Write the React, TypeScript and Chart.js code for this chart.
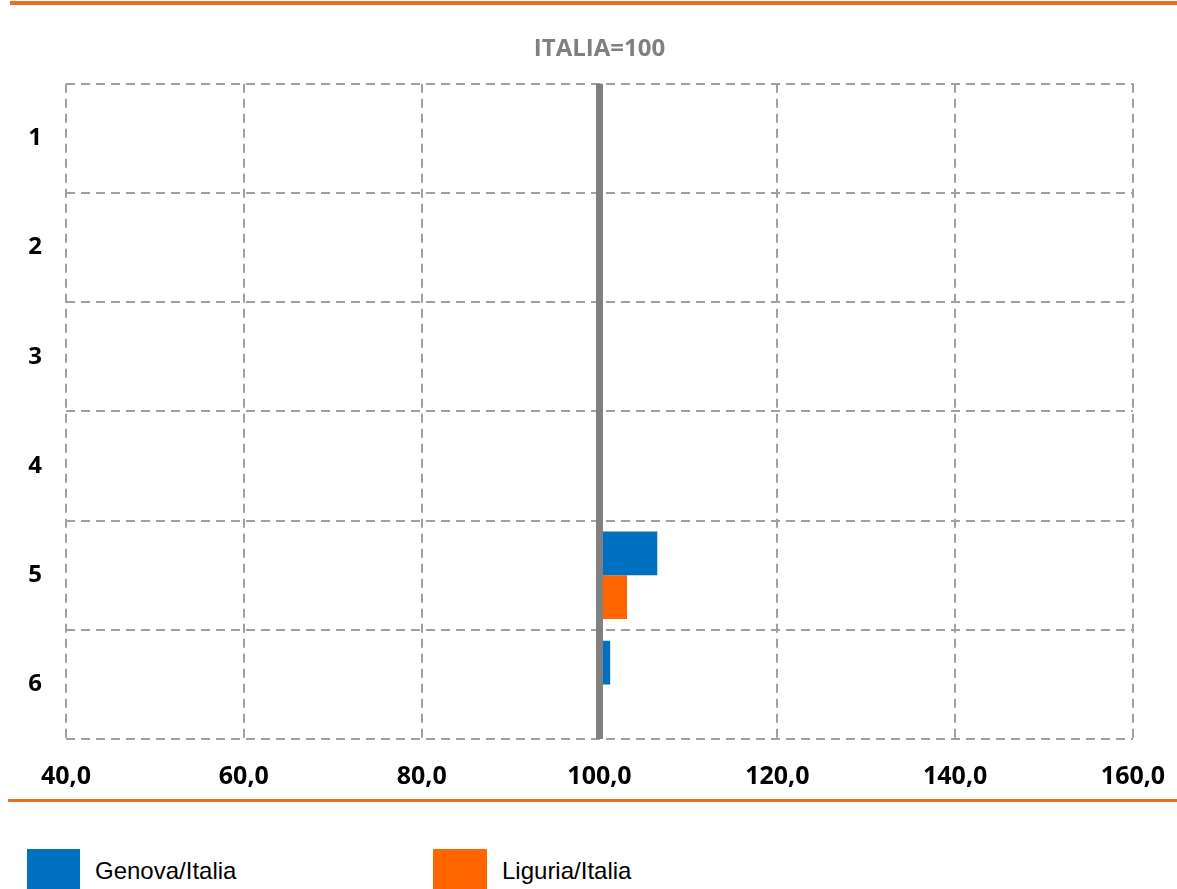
import React, { useEffect, useRef } from "react";
import { Chart, registerables } from "chart.js";

Chart.register(...registerables);

const categories = ["1", "2", "3", "4", "5", "6"];
const genovaValues: (number | null)[] = [null, null, null, null, 106.5, 101.2];
const liguriaValues: (number | null)[] = [null, null, null, null, 103.1, null];
const seriesNames = ["Genova/Italia", "Liguria/Italia"];
const seriesColors = ["#0070C0", "#FF6600"];
const xMin = 40;
const xMax = 160;
const xStep = 20;
const baseValue = 100;
const titleText = "ITALIA=100";

const FONT = "'Open Sans', 'DejaVu Sans', sans-serif";

const baseLinePlugin = {
  id: "baseLine",
  afterDatasetsDraw(chart: any) {
    const { ctx, chartArea, scales } = chart;
    const x = scales.x.getPixelForValue(baseValue);
    ctx.save();
    ctx.strokeStyle = "#808080";
    ctx.lineWidth = 7;
    ctx.beginPath();
    ctx.moveTo(x, chartArea.top);
    ctx.lineTo(x, chartArea.bottom);
    ctx.stroke();
    ctx.restore();
  },
};

export default function App() {
  const ref = useRef<HTMLCanvasElement>(null);

  useEffect(() => {
    if (!ref.current) return;
    const chart = new Chart(ref.current, {
      type: "bar",
      data: {
        labels: categories,
        datasets: [
          {
            label: seriesNames[0],
            data: genovaValues as any,
            backgroundColor: seriesColors[0],
            base: baseValue,
            categoryPercentage: 0.8,
            barPercentage: 1,
          } as any,
          {
            label: seriesNames[1],
            data: liguriaValues as any,
            backgroundColor: seriesColors[1],
            base: baseValue,
            categoryPercentage: 0.8,
            barPercentage: 1,
          } as any,
        ],
      },
      options: {
        indexAxis: "y",
        animation: false,
        responsive: false,
        maintainAspectRatio: false,
        layout: { padding: { left: 0, right: 44, top: 0, bottom: 21 } },
        plugins: {
          legend: { display: false },
          tooltip: { enabled: false },
          title: {
            display: true,
            text: titleText,
            fullSize: false,
            color: "#808080",
            font: { family: FONT, size: 24, weight: "bold" },
            padding: { top: 35, bottom: 20 },
          },
        },
        scales: {
          x: {
            type: "linear",
            min: xMin,
            max: xMax,
            afterFit: (s: any) => {
              s.height = 60;
              s.paddingLeft = 0;
              s.paddingRight = 0;
            },
            ticks: {
              stepSize: xStep,
              color: "#000000",
              font: { family: FONT, size: 25, weight: "bold" },
              padding: 23,
              callback: (v: any) => Number(v).toFixed(1).replace(".", ","),
            },
            grid: {
              color: "#A0A0A0",
              lineWidth: 2,
              drawTicks: false,
            },
            border: { display: false, dash: [9, 6] },
          },
          y: {
            type: "category",
            afterFit: (s: any) => {
              s.width = 66;
              s.paddingTop = 0;
              s.paddingBottom = 0;
            },
            ticks: {
              color: "#000000",
              font: { family: FONT, size: 24, weight: "bold" },
              padding: 24,
            },
            grid: {
              color: "#A0A0A0",
              lineWidth: 2,
              drawTicks: false,
              offset: true,
            },
            border: { display: false, dash: [9, 6] },
          },
        },
      },
      plugins: [baseLinePlugin],
    });
    return () => chart.destroy();
  }, []);

  const legendText: React.CSSProperties = {
    position: "absolute",
    top: 856,
    fontFamily: "'Liberation Sans', Arial, sans-serif",
    fontSize: 24,
    lineHeight: "30px",
    color: "#000",
    whiteSpace: "nowrap",
  };

  return (
    <div style={{ position: "absolute", left: 0, top: 0, width: 1177, height: 889, background: "#fff", overflow: "hidden" }}>
      <div style={{ position: "absolute", left: 10, top: 1, width: 1167, height: 4, background: "#E87025" }} />
      <div style={{ position: "absolute", left: 0, top: 0, width: 1177, height: 820 }}>
        <canvas ref={ref} width={1177} height={820} style={{ width: 1177, height: 820, display: "block" }} />
      </div>
      <div style={{ position: "absolute", left: 8, top: 799, width: 1169, height: 3, background: "#E87025" }} />
      <div style={{ position: "absolute", left: 27, top: 849, width: 53, height: 40, background: seriesColors[0] }} />
      <div style={{ ...legendText, left: 95 }}>{seriesNames[0]}</div>
      <div style={{ position: "absolute", left: 433, top: 849, width: 54, height: 40, background: seriesColors[1] }} />
      <div style={{ ...legendText, left: 502 }}>{seriesNames[1]}</div>
    </div>
  );
}
